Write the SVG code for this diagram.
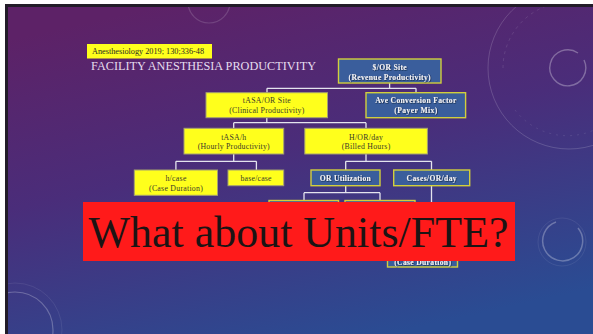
<svg xmlns="http://www.w3.org/2000/svg" width="593" height="334" viewBox="0 0 593 334">
  <defs>
    <linearGradient id="slideBg" x1="0.25" y1="0" x2="0.65" y2="1">
      <stop offset="0" stop-color="#5d2267"/>
      <stop offset="0.45" stop-color="#4a2d7a"/>
      <stop offset="1" stop-color="#2a4c93"/>
    </linearGradient>
    <filter id="txtShadow" x="-10%" y="-30%" width="120%" height="160%">
      <feDropShadow dx="0.6" dy="0.6" stdDeviation="0.3" flood-color="#10142a" flood-opacity="0.9"/>
    </filter>
    <clipPath id="slideClip">
      <rect x="8" y="7" width="585" height="327"/>
    </clipPath>
  </defs>
  <style>
    .deco { fill: none; stroke: #ffffff; }
    .node-y rect { fill: #ffff1c; stroke: #a4a070; stroke-width: 1; }
    .node-b rect { fill: #3a5e9c; stroke: #d2cf3c; stroke-width: 1.4; }
    .node-y text { font-family: "Liberation Serif", "Times New Roman", serif; font-size: 7.8px; fill: #3a3a2a; text-anchor: middle; }
    .node-b text { font-family: "Liberation Serif", "Times New Roman", serif; font-size: 7.6px; font-weight: bold; fill: #f2f2f6; text-anchor: middle; filter: url(#txtShadow); }
    .links path { fill: none; stroke: #e4e4ee; stroke-width: 1.3; }
  </style>

  <!-- page margin, frame and slide background -->
  <rect x="0" y="0" width="593" height="334" fill="#ffffff"/>
  <rect x="5" y="4" width="588" height="330" fill="#221c28"/>
  <rect x="8" y="7" width="585" height="327" fill="url(#slideBg)"/>

  <!-- faint decorative rings -->
  <g clip-path="url(#slideClip)">
    <circle class="deco" cx="209" cy="2" r="21" stroke-opacity="0.15" stroke-width="1.2"/>
    <circle class="deco" cx="569" cy="68" r="81" stroke-opacity="0.16" stroke-width="1"/>
    <path class="deco" d="M503 68 A66 66 0 0 1 569 2" stroke-opacity="0.14" stroke-width="0.8" stroke-dasharray="3 4"/>
    <path class="deco" d="M515 110 A66 66 0 0 0 610 120" stroke-opacity="0.12" stroke-width="0.8" stroke-dasharray="2 5"/>
    <path class="deco" d="M584 60 A18 18 0 1 1 578 53" stroke-opacity="0.3" stroke-width="1.4"/>
    <path class="deco" d="M578 228 A20 20 0 1 1 556 222" stroke-opacity="0.28" stroke-width="1.5"/>
    <circle class="deco" cx="562" cy="242" r="24" stroke-opacity="0.1" stroke-width="0.8"/>
    <circle class="deco" cx="15" cy="330" r="38" stroke-opacity="0.25" stroke-width="1.2"/>
    <circle class="deco" cx="15" cy="330" r="47" stroke-opacity="0.1" stroke-width="0.8"/>
  </g>

  <!-- citation and heading -->
  <g id="citation">
    <rect x="87" y="44" width="125" height="14.5" fill="#ffff1c"/>
    <text x="92" y="54.3" font-family="Liberation Serif, Times New Roman, serif" font-size="8" fill="#2a2a20" textLength="112" lengthAdjust="spacingAndGlyphs">Anesthesiology 2019; 130;336-48</text>
  </g>
  <g id="heading">
    <text x="91" y="70" font-family="Liberation Serif, Times New Roman, serif" font-size="12.6" fill="#e6dcee" textLength="225" lengthAdjust="spacingAndGlyphs">FACILITY ANESTHESIA PRODUCTIVITY</text>
  </g>

  <!-- connectors -->
  <g id="connectors" class="links">
    <path d="M389.6 83 V88.3 M267 88.3 H416 M267 88.3 V92.7 M416 88.3 V92.7"/>
    <path d="M266.8 117.7 V122.7 M233.7 122.7 H366 M233.7 122.7 V128.3 M366 122.7 V128.3"/>
    <path d="M233.7 154 V161.3 M175.9 161.3 H256.4 M175.9 161.3 V170 M256.4 161.3 V170"/>
    <path d="M366 154 V161.3 M345.7 161.3 H431.5 M345.7 161.3 V170 M431.5 161.3 V170"/>
    <path d="M345.7 185.7 V192.7 M304 192.7 H380 M304 192.7 V200.5 M380 192.7 V200.5"/>
    <path d="M431.5 185.7 V250"/>
  </g>

  <!-- nodes -->
  <g id="node-or-site" class="node-b">
    <rect x="338.5" y="59" width="102.5" height="24"/>
    <text x="389.6" y="70" textLength="34">$/OR Site</text>
    <text x="389.6" y="80.4" textLength="82">(Revenue Productivity)</text>
  </g>
  <g id="node-tasa-or" class="node-y">
    <rect x="206" y="92.7" width="121.5" height="25"/>
    <text x="266.8" y="102.7" textLength="48">tASA/OR Site</text>
    <text x="266.8" y="113" textLength="75">(Clinical Productivity)</text>
  </g>
  <g id="node-conversion" class="node-b">
    <rect x="366" y="92.7" width="99.6" height="25"/>
    <text x="415.8" y="102.7" textLength="81">Ave Conversion Factor</text>
    <text x="415.8" y="113" textLength="43">(Payer Mix)</text>
  </g>
  <g id="node-tasa-h" class="node-y">
    <rect x="184" y="128.3" width="99.7" height="25.7"/>
    <text x="233.7" y="140" textLength="25">tASA/h</text>
    <text x="233.7" y="149.4" textLength="72">(Hourly Productivity)</text>
  </g>
  <g id="node-h-or-day" class="node-y">
    <rect x="304.8" y="128.3" width="122.6" height="25.7"/>
    <text x="366" y="140" textLength="34">H/OR/day</text>
    <text x="366" y="149.4" textLength="48.5">(Billed Hours)</text>
  </g>
  <g id="node-h-case" class="node-y">
    <rect x="134.3" y="170" width="83.2" height="25.3"/>
    <text x="175.9" y="181" textLength="21">h/case</text>
    <text x="175.9" y="191.4" textLength="53.7">(Case Duration)</text>
  </g>
  <g id="node-base-case" class="node-y">
    <rect x="228" y="170" width="55.7" height="15.7"/>
    <text x="256" y="181" textLength="31">base/case</text>
  </g>
  <g id="node-or-util" class="node-b">
    <rect x="311" y="170" width="69" height="15.7"/>
    <text x="345.3" y="181" textLength="51">OR Utilization</text>
  </g>
  <g id="node-cases-or-day" class="node-b">
    <rect x="393.7" y="170" width="76" height="15.7"/>
    <text x="431.6" y="181" textLength="50">Cases/OR/day</text>
  </g>
  <g id="node-util-a" class="node-b">
    <rect x="269" y="200.5" width="69.5" height="24"/>
  </g>
  <g id="node-util-b" class="node-b">
    <rect x="345" y="200.5" width="70" height="24"/>
  </g>
  <g id="node-case-duration" class="node-b">
    <rect x="387.5" y="246" width="70" height="21"/>
    <text x="422.6" y="265" textLength="56.7">(Case Duration)</text>
  </g>

  <!-- overlay banner -->
  <g id="banner">
    <rect x="83" y="202" width="432" height="59" fill="#ff1a1a"/>
    <text x="298.5" y="247.3" font-family="Liberation Serif, Times New Roman, serif" font-size="45" fill="#1c1414" text-anchor="middle" textLength="420" lengthAdjust="spacingAndGlyphs">What about Units/FTE?</text>
  </g>
</svg>
